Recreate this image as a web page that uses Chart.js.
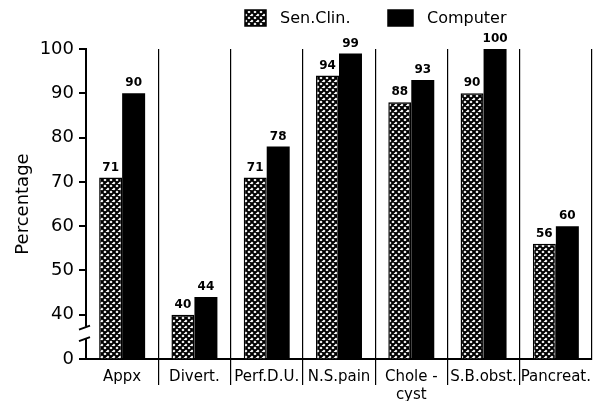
<!DOCTYPE html>
<html>
<head>
<meta charset="utf-8">
<script src="https://cdn.jsdelivr.net/npm/chart.js@4/dist/chart.umd.min.js"></script>
<style>
    html, body { margin: 0; padding: 0; background: #fff; }
    #wrap { position: relative; width: 604px; height: 401px; }
</style>
</head>
<body>
<div id="wrap"><canvas id="chart"></canvas></div>
<script>
// chart data
const categories = ['Appx', 'Divert.', 'Perf.D.U.', 'N.S.pain', ['Chole -', 'cyst'], 'S.B.obst.', 'Pancreat.'];
const senClin    = [71, 40, 71, 94, 88, 90, 56];
const computer   = [90, 44, 78, 99, 93, 100, 60];
// the axis is broken: its bottom (30) is labelled "0"
const yTickValues = [30, 40, 50, 60, 70, 80, 90, 100];
const yTickLabels = ['0', '40', '50', '60', '70', '80', '90', '100'];

const FONT = 'DejaVu Sans';

function makeHatch() {
    const c = document.createElement('canvas');
    c.width = 6;
    c.height = 6;
    const g = c.getContext('2d');
    g.fillStyle = '#fff';
    g.fillRect(0, 0, 6, 6);
    g.strokeStyle = '#000';
    g.lineWidth = 2;
    g.beginPath();
    for (const k of [-6, 0, 6]) {
        g.moveTo(k, 6); g.lineTo(k + 6, 0);
        g.moveTo(k, 0); g.lineTo(k + 6, 6);
    }
    g.stroke();
    return g.createPattern(c, 'repeat');
}
const hatch = makeHatch();

// value labels above the bars
const valueLabels = {
    id: 'valueLabels',
    afterDatasetsDraw(chart) {
        const ctx = chart.ctx;
        ctx.save();
        ctx.font = 'bold 12px "' + FONT + '"';
        ctx.fillStyle = '#000';
        ctx.textAlign = 'center';
        ctx.textBaseline = 'bottom';
        chart.data.datasets.forEach((ds, i) => {
            chart.getDatasetMeta(i).data.forEach((bar, j) => {
                ctx.fillText(ds.data[j], bar.x, bar.y - 4);
            });
        });
        ctx.restore();
    }
};

// axis break and legend
const extras = {
    id: 'extras',
    afterDraw(chart) {
        const ctx = chart.ctx;
        const y = chart.scales.y;
        const left = chart.chartArea.left;
        const top = y.getPixelForValue(37.3);
        const bot = y.getPixelForValue(34.5);
        ctx.save();
        ctx.fillStyle = '#fff';
        ctx.fillRect(left - 3, top, 6, bot - top);
        ctx.strokeStyle = '#000';
        ctx.lineWidth = 2;
        ctx.beginPath();
        ctx.moveTo(left - 7, top + 3); ctx.lineTo(left + 4, top - 1);
        ctx.moveTo(left - 7, bot + 2); ctx.lineTo(left + 4, bot - 2);
        ctx.stroke();

        // legend
        const items = [
            { x: 245, w: 21, fill: hatch },
            { x: 388, w: 25, fill: '#000' }
        ];
        ctx.font = '16px "' + FONT + '"';
        ctx.textBaseline = 'middle';
        ctx.textAlign = 'left';
        items.forEach((it, i) => {
            ctx.fillStyle = it.fill;
            ctx.fillRect(it.x, 10, it.w, 16);
            ctx.lineWidth = 1.5;
            ctx.strokeRect(it.x, 10, it.w, 16);
            ctx.fillStyle = '#000';
            ctx.fillText(chart.data.datasets[i].label, it.x + it.w + 14, 19);
        });
        ctx.restore();
    }
};

const chart = new Chart(document.getElementById('chart'), {
    type: 'bar',
    data: {
        labels: categories,
        datasets: [
            {
                label: 'Sen.Clin.',
                data: senClin,
                backgroundColor: hatch,
                borderColor: '#000',
                borderWidth: 1.5,
                borderSkipped: 'bottom'
            }, {
                label: 'Computer',
                data: computer,
                backgroundColor: '#000',
                borderWidth: 0
            }
        ]
    },
    options: {
        responsive: true,
        maintainAspectRatio: false,
        animation: false,
        layout: { padding: { top: 49, right: 12, bottom: 0, left: 6 } },
        datasets: { bar: { categoryPercentage: 0.636, barPercentage: 1.0 } },
        scales: {
            x: {
                grid: {
                    offset: true,
                    color: '#000',
                    lineWidth: 1.2,
                    drawTicks: true,
                    tickLength: 26,
                    tickColor: (c) => (c.index === 0 || c.index === undefined) ? 'rgba(0,0,0,0)' : '#000'
                },
                border: { display: true, color: '#000', width: 2 },
                ticks: {
                    color: '#000',
                    font: { family: FONT, size: 15 },
                    padding: -17,
                    maxRotation: 0,
                    autoSkip: false
                },
                afterFit: (scale) => { scale.height = 42; }
            },
            y: {
                min: 30,
                max: 100,
                afterBuildTicks: (scale) => {
                    scale.ticks = yTickValues.map(v => ({ value: v }));
                },
                grid: {
                    drawOnChartArea: false,
                    drawTicks: true,
                    tickLength: 7,
                    tickColor: '#000',
                    lineWidth: 2
                },
                border: { display: true, color: '#000', width: 2 },
                ticks: {
                    color: '#000',
                    font: { family: FONT, size: 18 },
                    padding: 5,
                    callback: (v, i) => yTickLabels[i]
                },
                title: {
                    display: true,
                    text: 'Percentage',
                    color: '#000',
                    font: { family: FONT, size: 18 },
                    padding: { top: 7, bottom: 0 }
                },
                afterFit: (scale) => { scale.width = 80; }
            }
        },
        plugins: {
            legend: { display: false },
            tooltip: { enabled: false }
        }
    },
    plugins: [valueLabels, extras]
});
</script>
</body>
</html>
